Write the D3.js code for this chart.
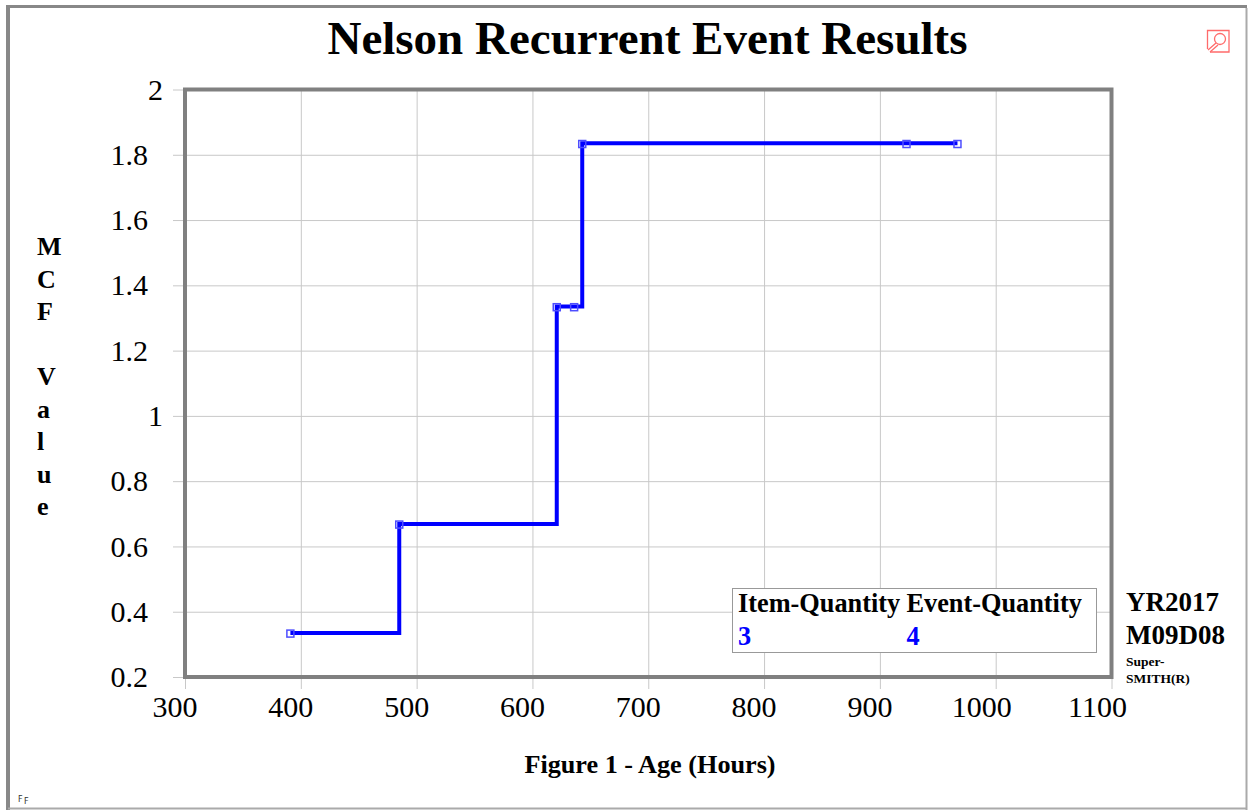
<!DOCTYPE html>
<html>

<head>

<script src="https://d3js.org/d3.v7.min.js"></script>

<style>

    body {
        margin: 0;
        background: #fff;
    }

    svg {
        display: block;
    }

    text {
        font-family: "Liberation Serif", serif;
        fill: #000;
    }

    .tick text {
        font-size: 30px;
    }

    .tick line, .grid line {
        stroke: #c8c8c8;
        stroke-width: 1px;
    }

    .domain {
        display: none;
    }

    .bold {
        font-weight: bold;
    }

</style>

</head>

<body>

    <svg id='chart' width=1249 height=810></svg>

<script>

    var titleText = 'Nelson Recurrent Event Results',
        xLabelText = 'Figure 1 - Age (Hours)';

    var ages = [391, 485, 621, 636, 643, 923, 967];
    var mcfValues = [0.333, 0.667, 1.333, 1.333, 1.833, 1.833, 1.833];

    var xTicks = [300, 400, 500, 600, 700, 800, 900, 1000, 1100];
    var yTicks = [0.2, 0.4, 0.6, 0.8, 1, 1.2, 1.4, 1.6, 1.8, 2];

    var yLabelLetters = ['M', 'C', 'F', '', 'V', 'a', 'l', 'u', 'e'];
    var legendHeads = ['Item-Quantity', 'Event-Quantity'];
    var legendValues = ['3', '4'];
    var stampLines = ['YR2017', 'M09D08'];
    var smithLines = ['Super-', 'SMITH(R)'];

    var svg = d3.select('#chart');

    var left = 185,
        right = 1111.5,
        top_ = 89.5,
        bottom = 677;

    var x = d3.scaleLinear().domain([300, 1100]).range([left, right]);
    var y = d3.scaleLinear().domain([0.2, 2]).range([bottom, top_]);

    // outer frame, heavy on top and left like the original screenshot
    svg.append('line').attr('x1', 8).attr('x2', 8).attr('y1', 5).attr('y2', 810)
        .attr('stroke', '#888').attr('stroke-width', 4);
    svg.append('line').attr('x1', 6).attr('x2', 1247).attr('y1', 6.5).attr('y2', 6.5)
        .attr('stroke', '#888').attr('stroke-width', 3);
    svg.append('line').attr('x1', 1246.5).attr('x2', 1246.5).attr('y1', 8).attr('y2', 810)
        .attr('stroke', '#aaa').attr('stroke-width', 2);
    svg.append('line').attr('x1', 8).attr('x2', 1247).attr('y1', 808.5).attr('y2', 808.5)
        .attr('stroke', '#aaa').attr('stroke-width', 2);

    // grid and ticks
    svg.append('g')
        .attr('class', 'grid')
        .attr('transform', 'translate(0,' + bottom + ')')
        .call(d3.axisBottom(x).tickValues(xTicks).tickSize(-(bottom - top_)).tickFormat(''));

    svg.append('g')
        .attr('class', 'grid')
        .attr('transform', 'translate(' + left + ',0)')
        .call(d3.axisLeft(y).tickValues(yTicks).tickSize(-(right - left)).tickFormat(''));

    var xAxis = svg.append('g')
        .attr('transform', 'translate(0,' + bottom + ')')
        .call(d3.axisBottom(x).tickValues(xTicks).tickSize(12).tickPadding(7).tickFormat(d3.format('d')));

    var yAxis = svg.append('g')
        .attr('transform', 'translate(' + left + ',0)')
        .call(d3.axisLeft(y).tickValues(yTicks).tickSize(12).tickPadding(25).tickFormat(function(d) { return String(d); }));

    // x labels sit left of their ticks in the original, single digit y labels sit closer
    xAxis.selectAll('text')
        .attr('fill', '#000')
        .attr('dx', function(d) { return d >= 1000 ? -14.5 : -10.5; });
    yAxis.selectAll('text')
        .attr('fill', '#000')
        .attr('dx', function(d) { return Number.isInteger(d) ? 15 : 0; });

    svg.append('rect')
        .attr('x', left)
        .attr('y', top_)
        .attr('width', right - left)
        .attr('height', bottom - top_)
        .attr('fill', 'none')
        .attr('stroke', '#808080')
        .attr('stroke-width', 4);

    // step line and markers
    var points = ages.map(function(a, i) { return [a, mcfValues[i]]; });

    var stepLine = d3.line()
        .x(function(d) { return x(d[0]); })
        .y(function(d) { return y(d[1]); })
        .curve(d3.curveStepAfter);

    svg.append('path')
        .datum(points)
        .attr('d', stepLine)
        .attr('transform', 'translate(0,-0.7)')
        .attr('fill', 'none')
        .attr('stroke', '#0000ff')
        .attr('stroke-width', 4);

    svg.selectAll('.marker')
        .data(points)
      .enter()
        .append('rect')
        .attr('class', 'marker')
        .attr('x', function(d) { return x(d[0]) - 3.5; })
        .attr('y', function(d) { return y(d[1]) - 3.5; })
        .attr('width', 7)
        .attr('height', 7)
        .attr('fill', 'none')
        .attr('stroke', '#4d4dff')
        .attr('stroke-width', 1.5);

    // title and axis labels
    svg.append('text')
        .attr('class', 'bold')
        .attr('x', 647.5)
        .attr('y', 54)
        .attr('text-anchor', 'middle')
        .style('font-size', '47px')
        .text(titleText);

    svg.append('text')
        .attr('class', 'bold')
        .attr('x', 650)
        .attr('y', 773)
        .attr('text-anchor', 'middle')
        .style('font-size', '26.2px')
        .text(xLabelText);

    svg.selectAll('.ylab')
        .data(yLabelLetters)
      .enter()
        .append('text')
        .attr('class', 'ylab bold')
        .attr('x', 37)
        .attr('y', function(d, i) { return 255 + i * 32.5; })
        .style('font-size', '26px')
        .text(function(d) { return d; });

    // legend box
    svg.append('rect')
        .attr('x', 732.5)
        .attr('y', 588.5)
        .attr('width', 364)
        .attr('height', 64)
        .attr('fill', '#fff')
        .attr('stroke', '#999')
        .attr('stroke-width', 1);

    var legendX = [738, 906.5];

    svg.selectAll('.lhead')
        .data(legendHeads)
      .enter()
        .append('text')
        .attr('class', 'lhead bold')
        .attr('x', function(d, i) { return legendX[i]; })
        .attr('y', 612)
        .style('font-size', '26.3px')
        .text(function(d) { return d; });

    svg.selectAll('.lval')
        .data(legendValues)
      .enter()
        .append('text')
        .attr('class', 'lval bold')
        .attr('x', function(d, i) { return legendX[i]; })
        .attr('y', 645)
        .style('font-size', '26.3px')
        .style('fill', '#0000ff')
        .text(function(d) { return d; });

    // date stamp
    svg.selectAll('.stamp')
        .data(stampLines)
      .enter()
        .append('text')
        .attr('class', 'stamp bold')
        .attr('x', 1126)
        .attr('y', function(d, i) { return 611 + i * 33; })
        .style('font-size', '27px')
        .text(function(d) { return d; });

    svg.selectAll('.smith')
        .data(smithLines)
      .enter()
        .append('text')
        .attr('class', 'smith bold')
        .attr('x', 1126)
        .attr('y', function(d, i) { return 666 + i * 17; })
        .style('font-size', '13.5px')
        .text(function(d) { return d; });

    // little FF mark, bottom left
    svg.append('text')
        .attr('x', 18)
        .attr('y', 802)
        .style('font-family', '"DejaVu Sans", sans-serif')
        .style('font-size', '8px')
        .style('fill', '#333')
        .text('F');
    svg.append('text')
        .attr('x', 24)
        .attr('y', 804)
        .style('font-family', '"DejaVu Sans", sans-serif')
        .style('font-size', '8px')
        .style('fill', '#333')
        .text('F');

    // zoom icon, top right
    var icon = svg.append('g')
        .attr('transform', 'translate(1207,30)')
        .attr('fill', 'none')
        .attr('stroke', '#ff6b6b')
        .attr('stroke-width', 1.3);
    icon.append('path').attr('d', 'M0.5,19 V0.5 H22 V22 H3');
    icon.append('circle').attr('cx', 13).attr('cy', 9).attr('r', 5.5);
    icon.append('path').attr('d', 'M9,13 L1,20 M11,15 L3,22');

</script>

</body>

</html>
